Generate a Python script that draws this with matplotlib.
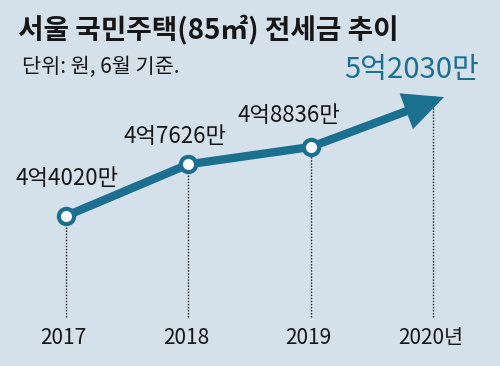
#!/usr/bin/env python3

import matplotlib
matplotlib.use("Agg")
import matplotlib.pyplot as plt
import matplotlib.transforms as mtransforms
import numpy as np

plt.rcParams["font.family"] = ["Noto Sans CJK KR", "DejaVu Sans"]

# =========================
# Hardcoded data
# =========================

years = [2017, 2018, 2019, 2020]
year_labels = ["2017", "2018", "2019", "2020년"]
values = [44020, 47626, 48836, 52030]  # 만원
value_labels = ["4억4020만", "4억7626만", "4억8836만", "5억2030만"]

title = "서울 국민주택(85㎡) 전세금 추이"
subtitle = "단위: 원, 6월 기준."

# =========================
# Style
# =========================

BG = "#d5e1ea"
TEAL = "#1b6f8f"
INK = "#161616"
FIGSIZE = (5.0, 3.66)
DPI = 100

fig = plt.figure(figsize=FIGSIZE, dpi=DPI, facecolor=BG)
ax = fig.add_axes([0, 0, 1, 1])
ax.set_facecolor(BG)
ax.set_xlim(2016.4605, 2020.5477)
ax.set_ylim(33550, 59096)
ax.axis("off")

x = np.array(years, dtype=float)
y = np.array(values, dtype=float)
BASE = 36970

# dotted guide lines
ax.vlines(x, BASE, y, colors=INK, linestyles=(0, (1, 1.2)), linewidth=1.0, zorder=1)

# line through first three points
ax.plot(x[:3], y[:3], color=TEAL, lw=6, solid_capstyle="butt", zorder=2)

# arrow for last segment (tip runs a little past the last point)
tip = (x[3] + 0.09 * (x[3] - x[2]), y[3] + 0.09 * (y[3] - y[2]))
ax.annotate(
    "",
    xy=tip,
    xytext=(x[2], y[2]),
    arrowprops=dict(
        arrowstyle="-|>,head_length=0.95,head_width=0.45",
        lw=6,
        color=TEAL,
        mutation_scale=20,
        shrinkA=0,
        shrinkB=0,
        joinstyle="miter",
    ),
    zorder=2,
)

# markers on the first three points
ax.plot(x[:3], y[:3], "o", ms=11, mfc="white", mec=TEAL, mew=3, zorder=3)

# value labels
offsets = [(1, 37), (-13, 28), (-22, 31), (-21, 31)]
for i, (xi, yi) in enumerate(zip(x, y)):
    last = i == len(x) - 1
    ax.annotate(
        value_labels[i],
        xy=(xi, yi),
        xytext=offsets[i],
        textcoords="offset pixels",
        ha="center",
        va="center",
        fontsize=21 if last else 16,
        color=TEAL if last else INK,
        zorder=4,
    )

# year labels
trans = mtransforms.blended_transform_factory(ax.transData, ax.transAxes)
for xi, lab in zip(x, year_labels):
    ax.text(xi - 0.02, 0.0765, lab, transform=trans, ha="center", va="center",
            fontsize=15, color=INK)

fig.text(0.036, 0.921, title, ha="left", va="center", fontsize=20,
         fontweight="bold", color=INK)
fig.text(0.044, 0.818, subtitle, ha="left", va="center", fontsize=15, color=INK)

plt.savefig("out.png", dpi=DPI, facecolor=BG)
plt.close(fig)
